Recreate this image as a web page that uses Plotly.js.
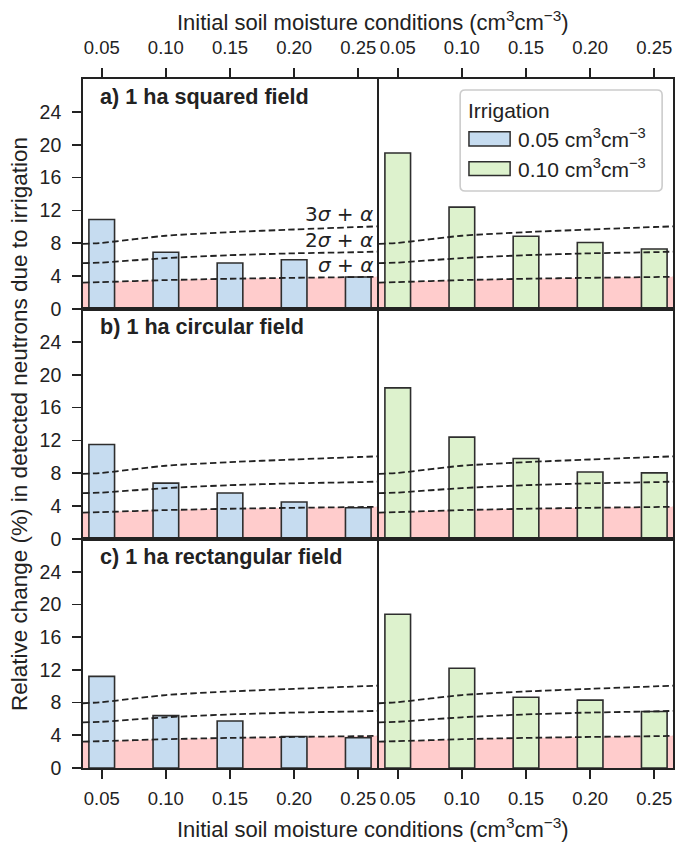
<!DOCTYPE html>
<html>
<head>
<meta charset="utf-8">
<script src="https://cdn.plot.ly/plotly-3.0.1.min.js"></script>
<style>
  html, body { margin: 0; padding: 0; background: #ffffff; }
  #chart { width: 675px; height: 846px; }
</style>
</head>
<body>
<div id="chart"></div>
<script>
// ---------------- data ----------------
const soilMoisture = [0.05, 0.10, 0.15, 0.20, 0.25];
const soilMoistureLabels = ['0.05', '0.10', '0.15', '0.20', '0.25'];
const yTicks = [0, 4, 8, 12, 16, 20, 24];

const panelTitles = ['a) 1 ha squared field', 'b) 1 ha circular field', 'c) 1 ha rectangular field'];
const irrigationLabels = ['0.05 cm<sup>3</sup>cm<sup>\u22123</sup>', '0.10 cm<sup>3</sup>cm<sup>\u22123</sup>'];

// relative change (%) in detected neutrons
const squaredIrr005 = [10.9, 6.9, 5.6, 6.0, 3.9];
const squaredIrr010 = [19.0, 12.4, 8.85, 8.1, 7.3];
const circularIrr005 = [11.5, 6.8, 5.6, 4.5, 3.8];
const circularIrr010 = [18.4, 12.4, 9.8, 8.15, 8.05];
const rectangularIrr005 = [11.2, 6.4, 5.75, 3.85, 3.7];
const rectangularIrr010 = [18.8, 12.2, 8.65, 8.3, 6.9];

// detection thresholds sampled along soil moisture (axis edges included)
const thresholdSm = [0.0354, 0.05, 0.10, 0.15, 0.20, 0.25, 0.2646];
const sigma1Alpha = [3.22, 3.28, 3.52, 3.68, 3.80, 3.89, 3.93];
const sigma2Alpha = [5.58, 5.65, 6.20, 6.55, 6.78, 6.92, 6.98];
const sigma3Alpha = [7.92, 8.05, 8.92, 9.36, 9.68, 9.98, 10.06];
const thresholdLabels = ['3<i>\u03c3</i> + <i>\u03b1</i>', '2<i>\u03c3</i> + <i>\u03b1</i>', '<i>\u03c3</i> + <i>\u03b1</i>'];

// ---------------- styling ----------------
const FONT = 'Liberation Sans, Arial, Helvetica, sans-serif';
const INK = '#222222';
const BLUE = '#c6dcf0';
const GREEN = '#ddf2cd';
const PINK = '#ffcccc';
const BAR_EDGE = '#2e2e2e';
const XTICK_SIZE = 18.5;
const YTICK_SIZE = 19.5;

const panelData = [
  [squaredIrr005, squaredIrr010],
  [circularIrr005, circularIrr010],
  [rectangularIrr005, rectangularIrr010]
];

const W = 675, H = 846;
const M = {l: 83, r: 2, t: 79, b: 78};
const PW = W - M.l - M.r, PH = H - M.t - M.b;
const px2x = p => (p - M.l) / PW;
const px2y = p => (H - M.b - p) / PH;

const colDomains = [[0, px2x(377)], [px2x(379), 1]];
const rowDomains = [[px2y(309), 1], [px2y(539), px2y(309)], [0, px2y(539)]];
const xRange = [0.0354, 0.2646];

const traces = [];
const layout = {
  width: W, height: H,
  margin: M,
  paper_bgcolor: '#ffffff',
  plot_bgcolor: 'rgba(0,0,0,0)',
  showlegend: false,
  font: {family: FONT, size: 20, color: INK},
  bargap: 0,
  annotations: [],
  shapes: []
};

for (let i = 0; i < 6; i++) {
  const row = Math.floor(i / 2), col = i % 2;
  const n = i + 1, ov = i + 7;
  const xk = 'xaxis' + (n === 1 ? '' : n);
  const yk = 'yaxis' + (n === 1 ? '' : n);
  const xs = 'x' + (n === 1 ? '' : n);
  const ys = 'y' + (n === 1 ? '' : n);
  const yov = 'y' + ov;

  layout[xk] = {
    domain: colDomains[col], range: xRange, anchor: ys,
    tickmode: 'array', tickvals: soilMoisture, ticktext: soilMoistureLabels,
    side: row === 0 ? 'top' : 'bottom',
    ticks: row === 1 ? '' : 'outside', showticklabels: row !== 1,
    ticklen: 9, tickwidth: 1.6, tickcolor: INK, ticklabelstandoff: row === 0 ? 7 : 4,
    tickfont: {family: FONT, size: XTICK_SIZE, color: INK},
    showline: true, linecolor: INK, linewidth: 1.8, mirror: true,
    showgrid: false, zeroline: false, fixedrange: true
  };
  layout[yk] = {
    domain: rowDomains[row], range: [0, 28], anchor: xs,
    tickmode: 'array', tickvals: yTicks,
    side: col === 0 ? 'left' : 'right',
    ticks: 'outside', showticklabels: col === 0,
    ticklen: 9, tickwidth: 1.6, tickcolor: INK, ticklabelstandoff: 7,
    tickfont: {family: FONT, size: YTICK_SIZE, color: INK},
    showline: true, linecolor: INK, linewidth: 1.8, mirror: true,
    showgrid: false, zeroline: false, fixedrange: true
  };
  layout['yaxis' + ov] = {
    overlaying: ys, anchor: xs, range: [0, 28], visible: false,
    showticklabels: false, side: col === 0 ? 'left' : 'right', fixedrange: true
  };

  // pink region below sigma + alpha (base subplot, beneath bars)
  traces.push({
    type: 'scatter', mode: 'lines', x: thresholdSm, y: sigma1Alpha,
    xaxis: xs, yaxis: ys, fill: 'tozeroy', fillcolor: PINK,
    line: {width: 0, color: PINK, shape: 'spline', smoothing: 0.6}, hoverinfo: 'skip'
  });
  // bars
  traces.push({
    type: 'bar', x: soilMoisture, y: panelData[row][col], width: 0.02,
    xaxis: xs, yaxis: yov, name: irrigationLabels[col],
    marker: {color: col === 0 ? BLUE : GREEN, line: {color: BAR_EDGE, width: 1.6}}
  });
  // threshold lines
  [sigma1Alpha, sigma2Alpha, sigma3Alpha].forEach(arr => {
    traces.push({
      type: 'scatter', mode: 'lines', x: thresholdSm, y: arr,
      xaxis: xs, yaxis: yov,
      line: {color: INK, width: 1.8, dash: '6.5px,3.3px', shape: 'spline', smoothing: 0.6},
      hoverinfo: 'skip'
    });
  });

  if (col === 0) {
    layout.annotations.push({
      xref: xs + ' domain', yref: ys + ' domain', x: 0.05, y: 0.923,
      xanchor: 'left', yanchor: 'middle', showarrow: false,
      text: '<b>' + panelTitles[row] + '</b>',
      font: {family: FONT, size: 21.6, color: INK}
    });
  }
}

// threshold labels in panel a (left)
const lastIdx = thresholdSm.length - 1;
[sigma3Alpha, sigma2Alpha, sigma1Alpha].forEach((arr, k) => {
  layout.annotations.push({
    xref: 'x', yref: 'y', x: thresholdSm[lastIdx], y: arr[lastIdx],
    xanchor: 'right', yanchor: 'bottom', xshift: -2, yshift: -2, showarrow: false,
    text: thresholdLabels[k],
    font: {family: 'DejaVu Sans, sans-serif', size: 20, color: INK}
  });
});

// axis titles
const xTitle = 'Initial soil moisture conditions (cm<sup>3</sup>cm<sup>\u22123</sup>)';
layout.annotations.push({
  xref: 'paper', yref: 'paper', x: px2x(373), y: px2y(21), xanchor: 'center', yanchor: 'middle',
  showarrow: false, text: xTitle, font: {family: FONT, size: 22, color: INK}
});
layout.annotations.push({
  xref: 'paper', yref: 'paper', x: px2x(373), y: px2y(828), xanchor: 'center', yanchor: 'middle',
  showarrow: false, text: xTitle, font: {family: FONT, size: 22, color: INK}
});
layout.annotations.push({
  xref: 'paper', yref: 'paper', x: px2x(19), y: px2y(424), xanchor: 'center', yanchor: 'middle',
  textangle: -90, showarrow: false,
  text: 'Relative change (%) in detected neutrons due to irrigation',
  font: {family: FONT, size: 22.5, color: INK}
});

// legend (panel a, right), in domain coordinates of x2/y2
const lx0 = 0.276, lx1 = 0.963, ly0 = 0.513, ly1 = 0.952;
const rx = 5 / 294, ry = 5 / 230;
const legPath = `M ${lx0 + rx},${ly0} L ${lx1 - rx},${ly0} Q ${lx1},${ly0} ${lx1},${ly0 + ry} ` +
  `L ${lx1},${ly1 - ry} Q ${lx1},${ly1} ${lx1 - rx},${ly1} L ${lx0 + rx},${ly1} ` +
  `Q ${lx0},${ly1} ${lx0},${ly1 - ry} L ${lx0},${ly0 + ry} Q ${lx0},${ly0} ${lx0 + rx},${ly0} Z`;
layout.shapes.push({
  type: 'path', xref: 'x2 domain', yref: 'y2 domain', path: legPath,
  fillcolor: 'rgba(255,255,255,0.85)', line: {color: '#cccccc', width: 1.6}, layer: 'above'
});
layout.annotations.push({
  xref: 'x2 domain', yref: 'y2 domain', x: 0.296, y: 0.861, xanchor: 'left', yanchor: 'middle',
  showarrow: false, text: 'Irrigation', font: {family: FONT, size: 21, color: INK}
});
const swatchY = [[0.709, 0.771], [0.580, 0.640]];
[BLUE, GREEN].forEach((c, k) => {
  layout.shapes.push({
    type: 'rect', xref: 'x2 domain', yref: 'y2 domain', x0: 0.306, x1: 0.446,
    y0: swatchY[k][0], y1: swatchY[k][1], fillcolor: c,
    line: {color: BAR_EDGE, width: 1.5}, layer: 'above'
  });
  layout.annotations.push({
    xref: 'x2 domain', yref: 'y2 domain', x: 0.466, y: (swatchY[k][0] + swatchY[k][1]) / 2,
    xanchor: 'left', yanchor: 'middle', yshift: 1, showarrow: false,
    text: irrigationLabels[k], font: {family: FONT, size: 21, color: INK}
  });
});

Plotly.newPlot('chart', traces, layout, {displayModeBar: false, staticPlot: true});
</script>
</body>
</html>
